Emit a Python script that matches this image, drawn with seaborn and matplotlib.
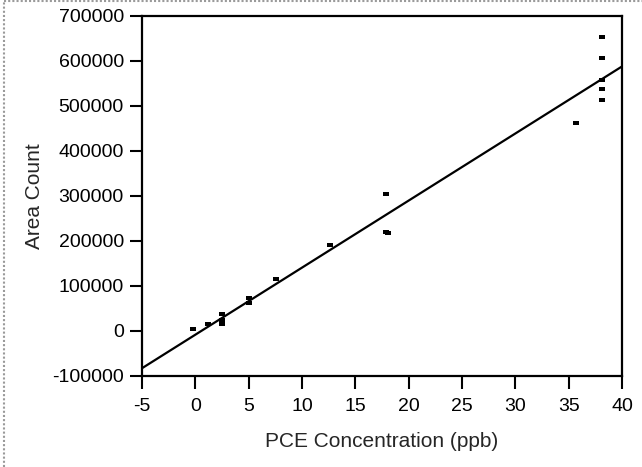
import numpy as np
import pandas as pd
import matplotlib
matplotlib.use("Agg")
import matplotlib.pyplot as plt
import seaborn as sns
from matplotlib.lines import Line2D

# PCE calibration readings
conc_ppb = [-0.2, 1.2, 2.5, 2.5, 2.5, 2.5, 5.0, 5.0, 7.6, 12.6,
            17.9, 17.9, 18.1, 35.7, 38.1, 38.1, 38.1, 38.1, 38.1]
area_count = [3500, 16000, 38000, 25000, 18500, 15500, 74000, 61000, 115000, 190000,
              305000, 219000, 218500, 461000, 652000, 607000, 558000, 537000, 514000]

x_ticks = list(range(-5, 41, 5))
y_ticks = list(range(-100000, 700001, 100000))

if __name__ == "__main__":
    df = pd.DataFrame({"conc": conc_ppb, "area": area_count})

    sns.set_style("white")
    plt.rcParams["font.family"] = ["Liberation Sans", "DejaVu Sans"]

    fig = plt.figure(figsize=(6.42, 4.67), dpi=100)
    ax = fig.add_axes([0.221, 0.195, 0.748, 0.771])
    ax.set_xlim(-5, 40)
    ax.set_ylim(-100000, 700000)

    # flat little rectangles as markers
    flat_box = [(-1, -0.5), (1, -0.5), (1, 0.5), (-1, 0.5), (-1, -0.5)]
    sns.regplot(data=df, x="conc", y="area", ax=ax, ci=None, truncate=False,
                marker=flat_box,
                scatter_kws={"s": 20, "color": "black", "linewidths": 0, "alpha": 1},
                line_kws={"color": "black", "linewidth": 1.6})

    ax.set_xlim(-5, 40)
    ax.set_ylim(-100000, 700000)
    ax.set_xticks(x_ticks)
    ax.set_yticks(y_ticks)
    ax.set_xticklabels([str(t) for t in x_ticks])
    ax.set_yticklabels([str(t) for t in y_ticks])
    ax.tick_params(direction="out", length=9, width=1.5, labelsize=14,
                   bottom=True, left=True, colors="black")
    ax.tick_params(axis="y", pad=4)
    ax.tick_params(axis="x", pad=7)
    for s in ax.spines.values():
        s.set_linewidth(1.6)
        s.set_color("black")

    ax.set_xlabel("PCE Concentration (ppb)", fontsize=15, labelpad=12)
    ax.set_ylabel("Area Count", fontsize=15, labelpad=6)

    # dotted grey frame, top and left only
    fig.lines.append(Line2D([0.006, 0.006], [0, 0.998], transform=fig.transFigure,
                            color="#9a9a9a", linewidth=1.5, linestyle=(0, (1, 1))))
    fig.lines.append(Line2D([0.006, 1], [0.998, 0.998], transform=fig.transFigure,
                            color="#9a9a9a", linewidth=1.5, linestyle=(0, (1, 1))))

    fig.savefig("out.png", dpi=100)
